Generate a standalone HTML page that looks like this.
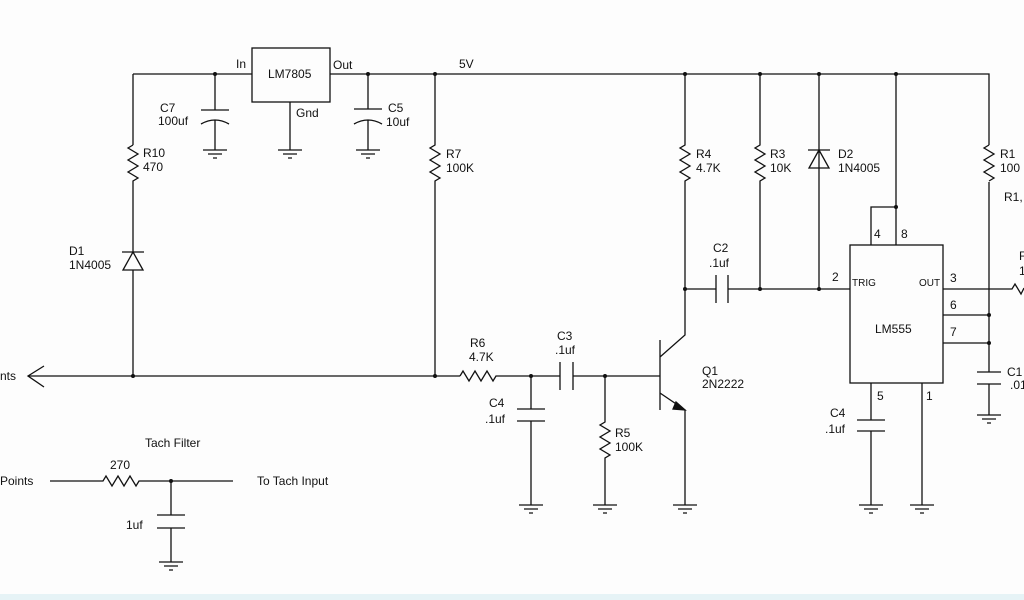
<!DOCTYPE html>
<html><head><style>
html,body{margin:0;padding:0;background:#fff;}
svg{display:block;}
text{font-family:"Liberation Sans",sans-serif;font-size:12px;fill:#111;}
</style></head><body>
<svg width="1024" height="600" viewBox="0 0 1024 600" xmlns="http://www.w3.org/2000/svg">
<defs>
<g id="g" stroke="#111" stroke-width="1.2"><path d="M-12,0 H12 M-7,4 H7 M-2,8 H2"/></g>
</defs>
<rect width="1024" height="600" fill="#fdfdfd"/>
<rect y="594" width="1024" height="6" fill="#e6f3f6"/>
<g stroke="#111" stroke-width="1.3" fill="none">
<path d="M133,74 H252 M330,74 H989 V145"/>
<path d="M133,74 V145"/>
<path d="M133,145 l-5,3 l10,6 l-10,6 l10,6 l-10,6 l10,6 l-5,3 V252"/>
<path d="M122,252 H144 M133,252 L123,270 H143 Z M133,270 V376"/>
<rect x="252" y="48" width="78" height="54"/>
<path d="M290,102 V150"/>
<path d="M215,74 V110 M201,110 H229 M201,124 Q215,116 229,124 M215,120 V150"/>
<path d="M368,74 V109 M354,109 H382 M354,124 Q368,116 382,124 M368,120 V150"/>
<path d="M435,74 V145 l-5,3 l10,6 l-10,6 l10,6 l-10,6 l10,6 l-5,3 V376"/>
<path d="M28,376 H460"/>
<path d="M44,366 L28,376 L44,387"/>
<path d="M460,376 l3,-5 l6,10 l6,-10 l6,10 l6,-10 l6,10 l3,-5 H560"/>
<path d="M531,376 V409 M517,409 H545 M517,421 H545 M531,421 V505"/>
<path d="M560,362 V390 M573,362 V390 M573,376 H660"/>
<path d="M605,376 V422 l-5,3 l10,6 l-10,6 l10,6 l-10,6 l10,6 l-5,3 V505"/>
<path d="M660,340 V410 M660,357 L685,335 V289 M660,393 L685,410 V505"/>
<path d="M676,402 L685,410 L673,409 Z" fill="#111"/>
<path d="M685,74 V145 l-5,3 l10,6 l-10,6 l10,6 l-10,6 l10,6 l-5,3 V289"/>
<path d="M685,289 H716 M716,275 V303 M728,275 V303 M728,289 H850"/>
<path d="M760,74 V145 l-5,3 l10,6 l-10,6 l10,6 l-10,6 l10,6 l-5,3 V289"/>
<path d="M819,74 V289 M808,150 H830 M819,150 L809,168 H829 Z"/>
<rect x="850" y="245" width="93" height="138"/>
<path d="M896,74 V245 M871,245 V207 H896"/>
<path d="M943,289 H1012 l3,-5 l6,10 l3,-6"/>
<path d="M943,315 H989 M943,343 H989"/>
<path d="M989,182 V372 M977,372 H1001 M977,384 H1001 M989,384 V415"/>
<path d="M989,145 l-5,3 l10,6 l-10,6 l10,6 l-10,6 l10,6 l-5,3"/>
<path d="M871,383 V420 M857,420 H885 M857,431 H885 M871,431 V505"/>
<path d="M922,383 V505"/>
<path d="M50,481 H103 l3,-5 l6,10 l6,-10 l6,10 l6,-10 l6,10 l3,-5 H233"/>
<path d="M171,481 V515 M157,515 H185 M157,528 H185 M171,528 V562"/>
</g>
<use href="#g" x="215" y="150"/>
<use href="#g" x="290" y="150"/>
<use href="#g" x="368" y="150"/>
<use href="#g" x="531" y="505"/>
<use href="#g" x="605" y="505"/>
<use href="#g" x="685" y="505"/>
<use href="#g" x="871" y="505"/>
<use href="#g" x="922" y="505"/>
<use href="#g" x="989" y="415"/>
<use href="#g" x="171" y="562"/>
<g fill="#111">
<circle cx="215" cy="74" r="2"/><circle cx="368" cy="74" r="2"/><circle cx="435" cy="74" r="2"/>
<circle cx="685" cy="74" r="2"/><circle cx="760" cy="74" r="2"/><circle cx="819" cy="74" r="2"/><circle cx="896" cy="74" r="2"/>
<circle cx="133" cy="376" r="2"/><circle cx="435" cy="376" r="2"/><circle cx="531" cy="376" r="2"/><circle cx="605" cy="376" r="2"/>
<circle cx="685" cy="289" r="2"/><circle cx="760" cy="289" r="2"/><circle cx="819" cy="289" r="2"/>
<circle cx="896" cy="207" r="2"/><circle cx="989" cy="315" r="2"/><circle cx="989" cy="343" r="2"/><circle cx="171" cy="481" r="2"/>
</g>
<text x="236" y="68">In</text>
<text x="268" y="78">LM7805</text>
<text x="333" y="69">Out</text>
<text x="459" y="68">5V</text>
<text x="296" y="117">Gnd</text>
<text x="160" y="112">C7</text>
<text x="158" y="125">100uf</text>
<text x="388" y="112">C5</text>
<text x="386" y="126">10uf</text>
<text x="143" y="157">R10</text>
<text x="143" y="171">470</text>
<text x="446" y="158">R7</text>
<text x="446" y="172">100K</text>
<text x="69" y="255">D1</text>
<text x="69" y="269">1N4005</text>
<text x="0" y="380">nts</text>
<text x="470" y="347">R6</text>
<text x="469" y="361">4.7K</text>
<text x="557" y="340">C3</text>
<text x="555" y="354">.1uf</text>
<text x="489" y="407">C4</text>
<text x="485" y="423">.1uf</text>
<text x="615" y="437">R5</text>
<text x="615" y="451">100K</text>
<text x="702" y="375">Q1</text>
<text x="702" y="388">2N2222</text>
<text x="696" y="158">R4</text>
<text x="696" y="172">4.7K</text>
<text x="770" y="158">R3</text>
<text x="770" y="172">10K</text>
<text x="838" y="158">D2</text>
<text x="838" y="172">1N4005</text>
<text x="1000" y="158">R1</text>
<text x="1000" y="172">100</text>
<text x="1004" y="201">R1,</text>
<text x="1019" y="260">F</text>
<text x="1019" y="275">1</text>
<text x="713" y="252">C2</text>
<text x="709" y="267">.1uf</text>
<text x="832" y="281">2</text>
<text x="852" y="286" style="font-size:10px">TRIG</text>
<text x="919" y="286" style="font-size:10px">OUT</text>
<text x="950" y="282">3</text>
<text x="950" y="309">6</text>
<text x="950" y="336">7</text>
<text x="874" y="238">4</text>
<text x="901" y="238">8</text>
<text x="875" y="333">LM555</text>
<text x="877" y="400">5</text>
<text x="926" y="400">1</text>
<text x="830" y="417">C4</text>
<text x="825" y="433">.1uf</text>
<text x="1007" y="376">C1</text>
<text x="1010" y="389">.01</text>
<text x="145" y="447">Tach Filter</text>
<text x="110" y="469">270</text>
<text x="0" y="485">Points</text>
<text x="257" y="485">To Tach Input</text>
<text x="126" y="529">1uf</text>
</svg>
</body></html>
